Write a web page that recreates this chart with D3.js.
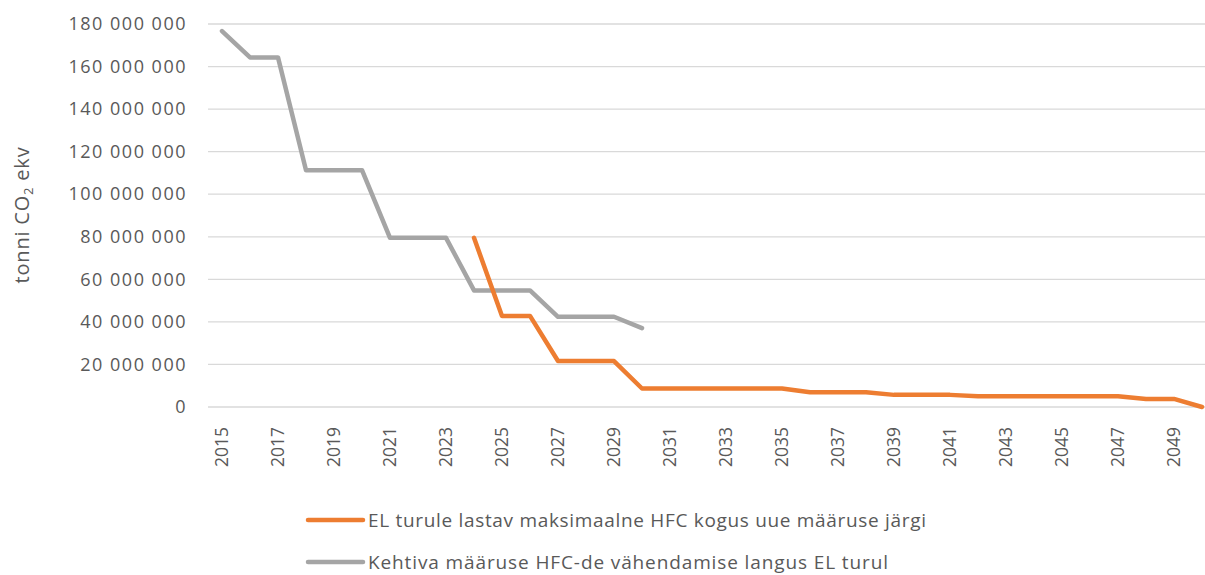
<!DOCTYPE html>
<html>
<head>
<meta charset="utf-8">
<script src="https://cdn.jsdelivr.net/npm/d3@7"></script>
<style>
  body { margin: 0; background: #fff; }
  text { font-family: "Open Sans", "Liberation Sans", sans-serif; fill: #595959; }
</style>
</head>
<body>
<div class="chart"></div>
<script>
// data
var years = d3.range(2015, 2051);
var tickYears = years.filter(function(y) { return (y - 2015) % 2 === 0; });
var yTicks = [0, 20e6, 40e6, 60e6, 80e6, 100e6, 120e6, 140e6, 160e6, 180e6];

var currentYears = [2015, 2016, 2017, 2018, 2019, 2020, 2021, 2022, 2023, 2024, 2025, 2026, 2027, 2028, 2029, 2030];
var currentValues = [176.7e6, 164.3e6, 164.3e6, 111.3e6, 111.3e6, 111.3e6, 79.5e6, 79.5e6, 79.5e6,
  54.8e6, 54.8e6, 54.8e6, 42.4e6, 42.4e6, 42.4e6, 37.1e6];

var newYears = d3.range(2024, 2051);
var newValues = [79.5e6, 42.8e6, 42.8e6, 21.6e6, 21.6e6, 21.6e6,
  8.7e6, 8.7e6, 8.7e6, 8.7e6, 8.7e6, 8.7e6,
  6.9e6, 6.9e6, 6.9e6, 5.7e6, 5.7e6, 5.7e6,
  5.0e6, 5.0e6, 5.0e6, 5.0e6, 5.0e6, 5.0e6,
  3.8e6, 3.8e6, 0];

var seriesNames = ["EL turule lastav maksimaalne HFC kogus uue määruse järgi",
  "Kehtiva määruse HFC-de vähendamise langus EL turul"];
var colors = ["#ED7D31", "#A5A5A5"];

var svgWidth = 1205;
var svgHeight = 575;

var svg = d3.select(".chart")
  .append("svg")
  .attr("width", svgWidth)
  .attr("height", svgHeight);

var x = d3.scaleBand()
  .domain(years)
  .range([208, 208 + 36 * 28]);

var y = d3.scaleLinear()
  .domain([0, 180e6])
  .range([407, 24]);

function cx(yr) { return x(yr) + x.bandwidth() / 2; }

// gridlines
svg.append("g")
  .selectAll("line")
  .data(yTicks)
  .enter()
  .append("line")
  .attr("x1", 208)
  .attr("x2", svgWidth)
  .attr("y1", d => y(d))
  .attr("y2", d => y(d))
  .attr("stroke", "#D9D9D9")
  .attr("stroke-width", 1.3);

// y axis labels
var fmt = function(d) { return d3.format(",")(d).replace(/,/g, " "); };
var leftAxis = d3.axisLeft(y).tickValues(yTicks).tickFormat(fmt).tickSize(0).tickPadding(0);
var yAxisG = svg.append("g")
  .attr("transform", "translate(187,0)")
  .call(leftAxis);
yAxisG.select(".domain").remove();
yAxisG.selectAll("text")
  .attr("font-size", "18px")
  .attr("letter-spacing", "1.5px")
  .attr("fill", "#595959")
  .style("font-family", "'Open Sans', sans-serif");

// x axis labels
var bottomAxis = d3.axisBottom(x).tickValues(tickYears).tickSize(0).tickPadding(0);
var xAxisG = svg.append("g")
  .call(bottomAxis);
xAxisG.select(".domain").remove();
xAxisG.selectAll(".tick").attr("transform", d => `translate(${cx(d)},427)`);
xAxisG.selectAll("text")
  .attr("transform", "rotate(-90)")
  .attr("x", 0)
  .attr("y", 0)
  .attr("dy", "0.35em")
  .attr("text-anchor", "end")
  .attr("font-size", "17.5px")
  .attr("fill", "#595959")
  .style("font-family", "'Open Sans', sans-serif");

// y axis title
svg.append("text")
  .attr("transform", "translate(29,215) rotate(-90)")
  .attr("text-anchor", "middle")
  .attr("font-size", "20px")
  .attr("letter-spacing", "0.8px")
  .html('tonni CO<tspan font-size="13px" dy="4">2</tspan><tspan dy="-4"> ekv</tspan>');

// lines
var line = d3.line()
  .x(d => cx(d[0]))
  .y(d => y(d[1]));

svg.append("path")
  .datum(d3.zip(currentYears, currentValues))
  .attr("d", line)
  .attr("fill", "none")
  .attr("stroke", colors[1])
  .attr("stroke-width", 4.5)
  .attr("stroke-linejoin", "round")
  .attr("stroke-linecap", "round");

svg.append("path")
  .datum(d3.zip(newYears, newValues))
  .attr("d", line)
  .attr("fill", "none")
  .attr("stroke", colors[0])
  .attr("stroke-width", 4.5)
  .attr("stroke-linejoin", "round")
  .attr("stroke-linecap", "round");

// legend
var legendWidths = [558, 520];
var legend = svg.append("g")
  .selectAll("g")
  .data(seriesNames)
  .enter()
  .append("g")
  .attr("transform", (d, i) => `translate(308, ${520 + i * 42})`);

legend.append("line")
  .attr("x1", 0)
  .attr("x2", 55)
  .attr("stroke", (d, i) => colors[i])
  .attr("stroke-width", 4.5)
  .attr("stroke-linecap", "round");

legend.append("text")
  .attr("x", 60)
  .attr("dy", "0.35em")
  .attr("font-size", "19px")
  .attr("textLength", (d, i) => legendWidths[i])
  .attr("lengthAdjust", "spacing")
  .text(d => d);
</script>
</body>
</html>
